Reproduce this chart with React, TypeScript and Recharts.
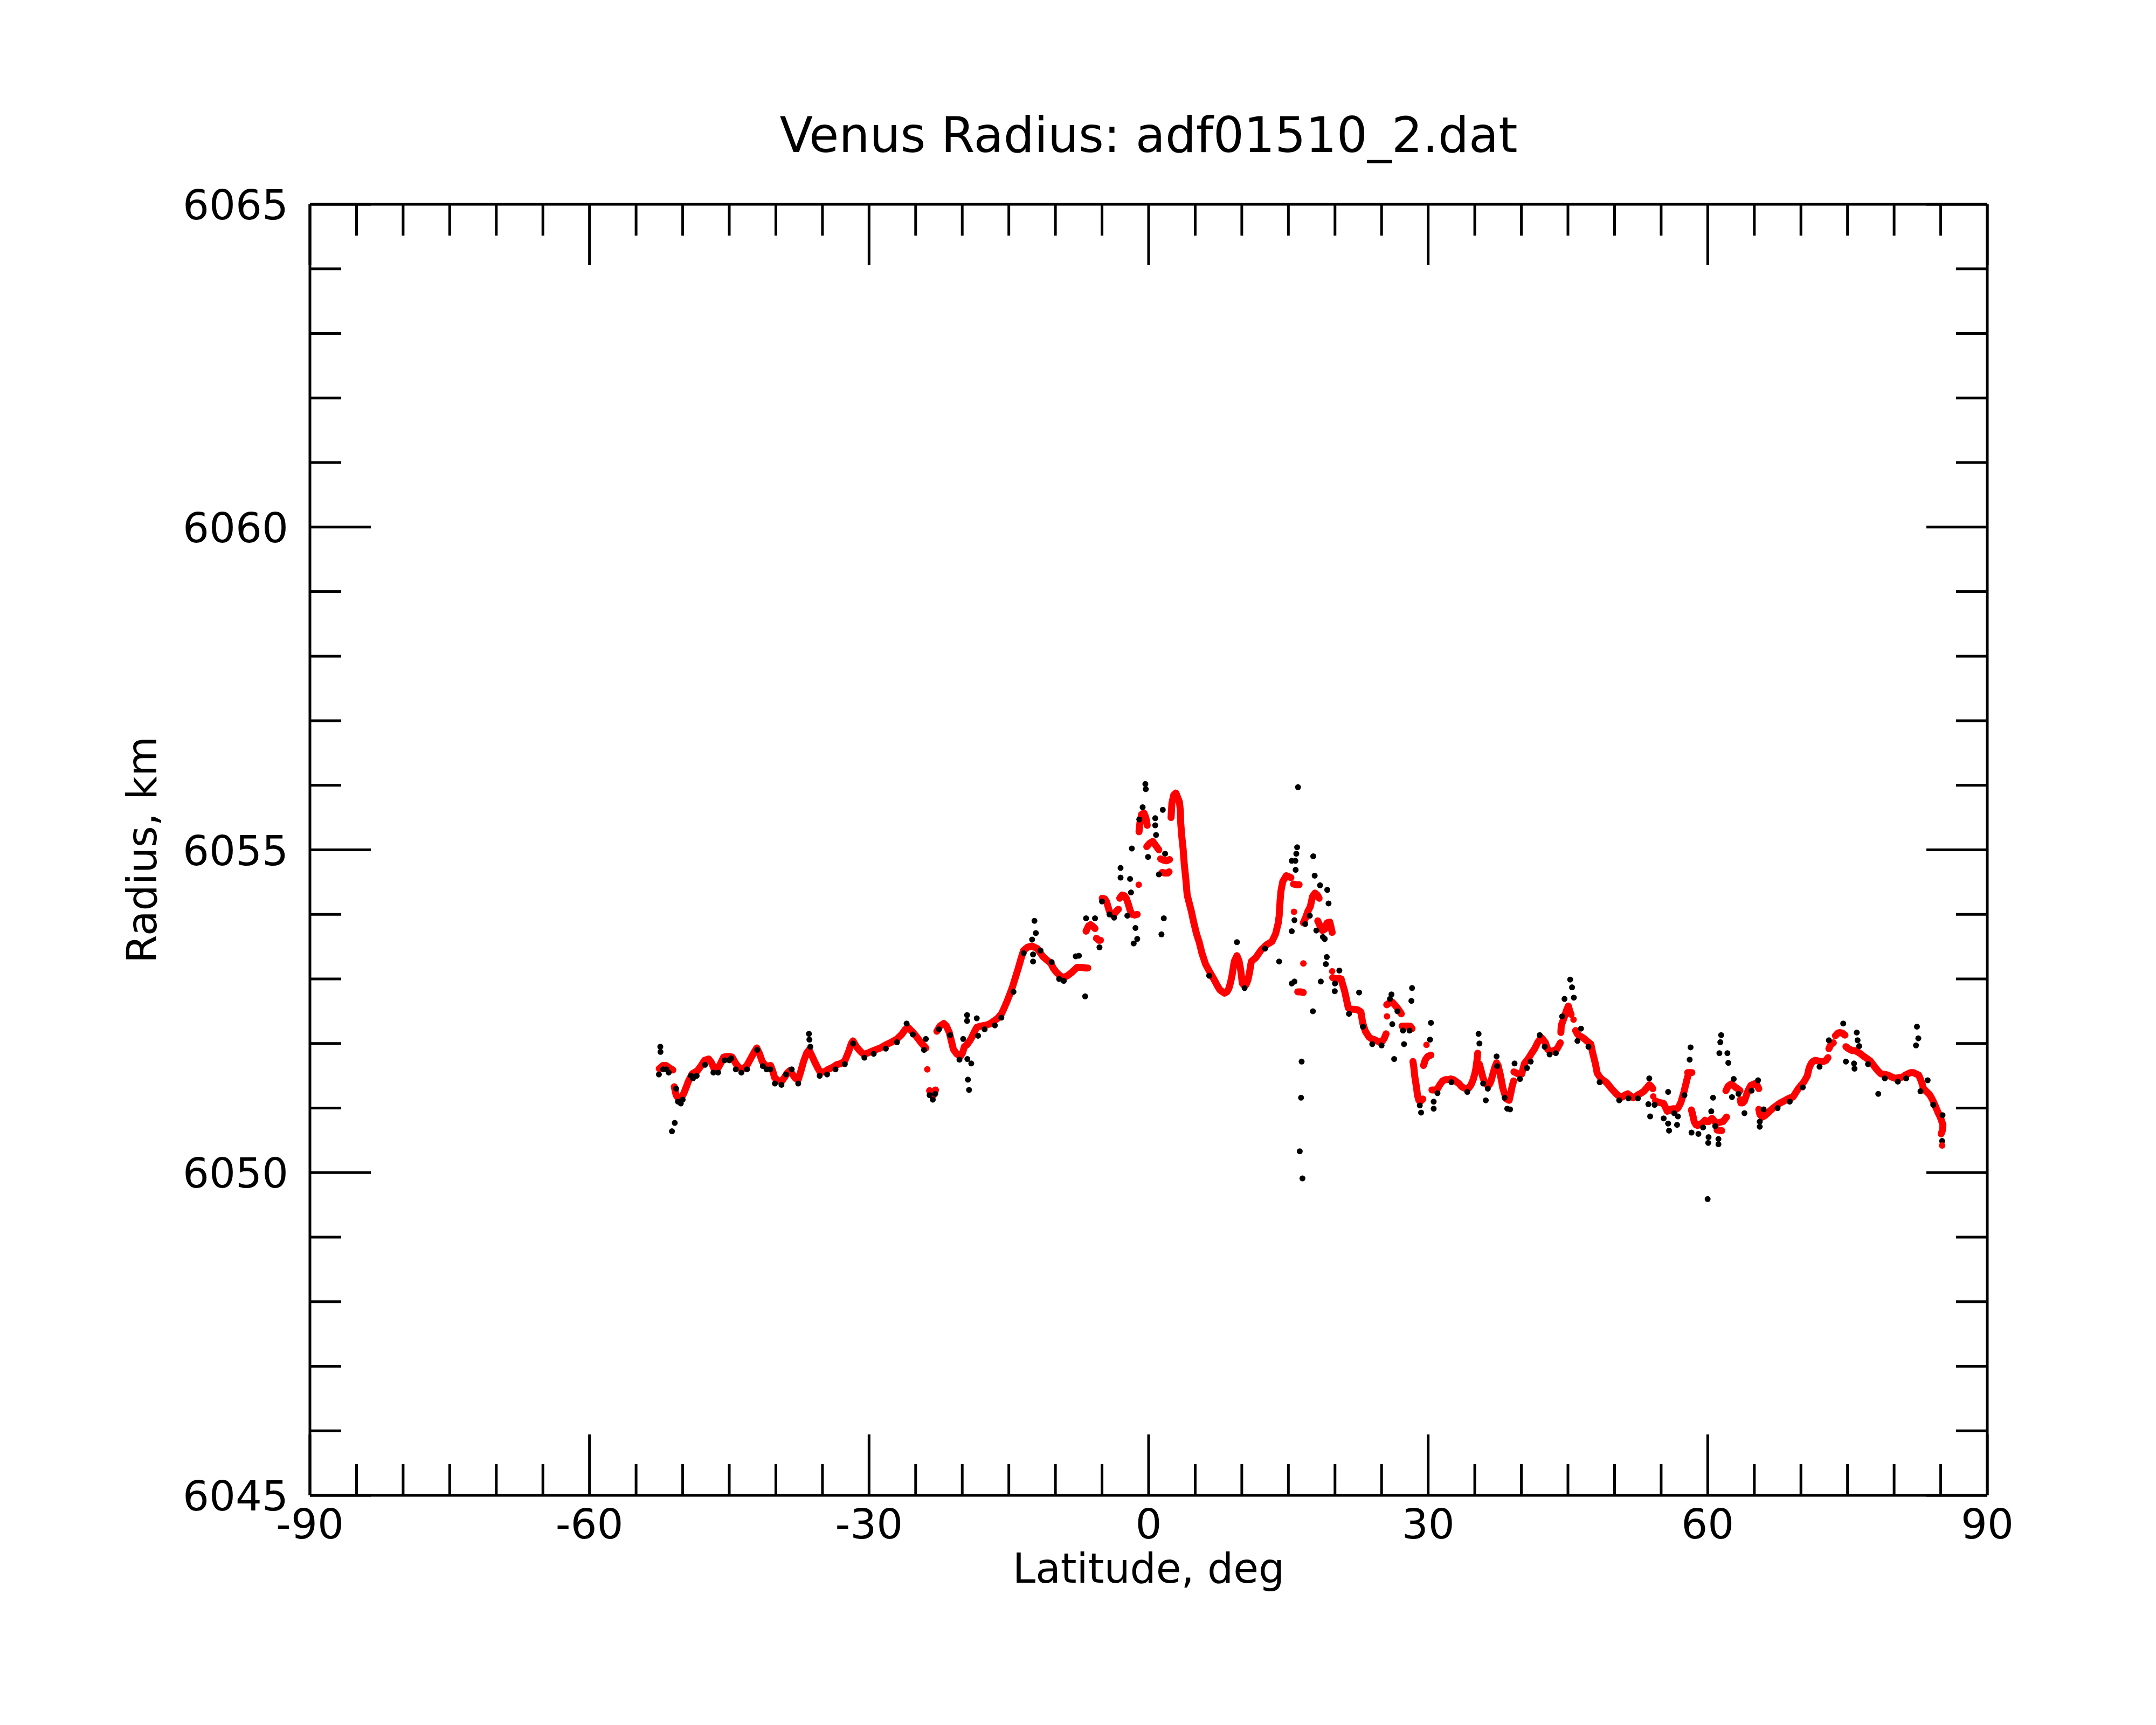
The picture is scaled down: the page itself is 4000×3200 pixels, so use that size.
import React from 'react';
import { ComposedChart, XAxis, YAxis, Line, Scatter } from 'recharts';

const FONT = '"DejaVu Sans", Verdana, sans-serif';

const titleText = 'Venus Radius: adf01510_2.dat';
const xLabelText = 'Latitude, deg';
const yLabelText = 'Radius, km';

const xTicks = [-90, -85, -80, -75, -70, -65, -60, -55, -50, -45, -40, -35, -30, -25, -20, -15, -10, -5, 0, 5, 10, 15, 20, 25, 30, 35, 40, 45, 50, 55, 60, 65, 70, 75, 80, 85, 90];
const xMajorTicks = [-90, -60, -30, 0, 30, 60, 90];
const yTicks = [6045, 6046, 6047, 6048, 6049, 6050, 6051, 6052, 6053, 6054, 6055, 6056, 6057, 6058, 6059, 6060, 6061, 6062, 6063, 6064, 6065];
const yMajorTicks = [6045, 6050, 6055, 6060, 6065];

// smoothed radius (red), continuous runs: [latitude, radius]
const redSeg01 = [[-52.52, 6051.61], [-52.1, 6051.66], [-51.79, 6051.66], [-51.4, 6051.62], [-51.05, 6051.59]];
const redSeg02 = [[-50.9, 6051.33], [-50.7, 6051.2], [-50.46, 6051.15], [-50.1, 6051.17], [-49.87, 6051.23], [-49.6, 6051.33], [-49.4, 6051.41], [-48.98, 6051.53], [-48.4, 6051.58], [-48.0, 6051.66], [-47.65, 6051.74], [-47.2, 6051.76], [-46.9, 6051.7], [-46.6, 6051.6], [-46.3, 6051.6], [-46.0, 6051.67], [-45.6, 6051.79], [-45.1, 6051.8], [-44.7, 6051.79], [-44.26, 6051.68], [-43.9, 6051.62], [-43.5, 6051.61], [-43.1, 6051.66], [-42.8, 6051.74], [-42.35, 6051.86], [-42.05, 6051.93], [-41.75, 6051.84], [-41.46, 6051.72], [-41.0, 6051.64], [-40.57, 6051.66], [-40.35, 6051.58], [-40.13, 6051.47], [-39.8, 6051.43], [-39.4, 6051.41], [-39.1, 6051.47], [-38.8, 6051.54], [-38.5, 6051.58], [-38.2, 6051.52], [-37.9, 6051.46], [-37.6, 6051.44], [-37.3, 6051.58], [-37.03, 6051.72], [-36.7, 6051.85], [-36.44, 6051.9], [-36.1, 6051.8], [-35.85, 6051.72], [-35.5, 6051.62], [-35.26, 6051.56], [-34.8, 6051.56], [-34.37, 6051.6], [-33.9, 6051.63], [-33.5, 6051.67], [-33.0, 6051.69], [-32.6, 6051.73], [-32.2, 6051.87], [-31.9, 6052.0], [-31.72, 6052.04], [-31.4, 6051.96], [-31.13, 6051.91], [-30.8, 6051.86], [-30.54, 6051.83], [-30.0, 6051.86], [-29.36, 6051.9], [-28.8, 6051.93], [-28.18, 6051.98], [-27.6, 6052.02], [-27.0, 6052.07], [-26.5, 6052.14], [-26.1, 6052.22], [-25.82, 6052.25], [-25.4, 6052.19], [-24.93, 6052.11], [-24.4, 6052.01], [-23.9, 6051.93]];
const redSeg03 = [[-23.5, 6051.27], [-23.3, 6051.2], [-23.16, 6051.19], [-23.0, 6051.22], [-22.87, 6051.28]];
const redSeg04 = [[-22.72, 6052.19], [-22.4, 6052.27], [-21.98, 6052.31], [-21.7, 6052.27], [-21.39, 6052.17], [-21.15, 6052.03], [-20.95, 6051.91], [-20.6, 6051.84], [-20.21, 6051.8], [-19.95, 6051.86], [-19.77, 6051.95], [-19.5, 6051.98], [-19.2, 6052.04], [-19.03, 6052.08], [-18.7, 6052.18], [-18.44, 6052.25], [-18.0, 6052.27], [-17.56, 6052.28], [-17.1, 6052.3], [-16.67, 6052.34], [-16.2, 6052.39], [-15.79, 6052.46], [-15.5, 6052.55], [-15.2, 6052.65], [-14.9, 6052.76], [-14.6, 6052.88], [-14.3, 6053.02], [-14.0, 6053.16], [-13.7, 6053.31], [-13.42, 6053.44], [-13.0, 6053.49], [-12.54, 6053.51], [-11.95, 6053.47], [-11.36, 6053.35], [-10.9, 6053.29], [-10.48, 6053.24], [-10.2, 6053.16], [-9.88, 6053.1], [-9.5, 6053.05], [-9.15, 6053.02], [-8.7, 6053.05], [-8.26, 6053.1], [-7.67, 6053.18], [-7.2, 6053.18], [-6.8, 6053.17], [-6.52, 6053.17]];
const redSeg05 = [[-6.71, 6053.74], [-6.45, 6053.82], [-6.23, 6053.84], [-5.95, 6053.81], [-5.75, 6053.78]];
const redSeg06 = [[-5.6, 6053.63], [-5.35, 6053.6], [-5.17, 6053.6]];
const redSeg07 = [[-4.98, 6054.25], [-4.7, 6054.24], [-4.5, 6054.19], [-4.21, 6054.05], [-3.95, 6054.0], [-3.72, 6054.0], [-3.45, 6054.05], [-3.24, 6054.08]];
const redSeg08 = [[-3.1, 6054.25], [-2.85, 6054.3], [-2.6, 6054.29], [-2.4, 6054.25], [-2.2, 6054.17], [-2.0, 6054.07], [-1.8, 6054.0], [-1.5, 6053.99], [-1.22, 6054.0]];
const redSeg09 = [[-1.03, 6055.28], [-0.93, 6055.42], [-0.75, 6055.55], [-0.5, 6055.57], [-0.3, 6055.5], [-0.15, 6055.38]];
const redSeg10 = [[-0.2, 6055.05], [0.1, 6055.1], [0.45, 6055.13], [0.8, 6055.06], [1.1, 6055.0]];
const redSeg11 = [[1.29, 6054.86], [1.6, 6054.84], [1.9, 6054.83], [2.25, 6054.85]];
const redSeg12 = [[1.45, 6054.65], [1.75, 6054.64], [2.06, 6054.64], [2.2, 6054.66]];
const redSeg13 = [[2.41, 6055.5], [2.5, 6055.72], [2.7, 6055.85], [2.93, 6055.88], [3.15, 6055.8], [3.31, 6055.74], [3.41, 6055.6], [3.45, 6055.41], [3.56, 6055.21], [3.7, 6055.02], [3.83, 6054.77], [3.99, 6054.55], [4.14, 6054.3], [4.37, 6054.17], [4.6, 6054.04], [4.85, 6053.87], [5.14, 6053.7], [5.43, 6053.57], [5.72, 6053.4], [6.11, 6053.23], [6.59, 6053.1], [7.07, 6052.98], [7.4, 6052.89], [7.65, 6052.83], [8.13, 6052.78], [8.4, 6052.8], [8.61, 6052.85], [8.8, 6052.95], [8.96, 6053.06], [9.19, 6053.27], [9.48, 6053.36], [9.7, 6053.28], [9.87, 6053.15], [10.06, 6052.93], [10.25, 6052.9], [10.45, 6052.91], [10.65, 6052.98], [10.83, 6053.1], [11.02, 6053.27], [11.5, 6053.33], [12.08, 6053.45], [12.66, 6053.53], [13.24, 6053.58], [13.63, 6053.7], [13.92, 6053.87], [14.01, 6053.98], [14.11, 6054.21], [14.2, 6054.36], [14.4, 6054.51], [14.78, 6054.6], [15.27, 6054.57]];
const redSeg14 = [[15.55, 6054.47], [15.85, 6054.46], [16.15, 6054.46]];
const redSeg15 = [[16.0, 6052.8], [16.3, 6052.8], [16.6, 6052.79]];
const redSeg16 = [[16.6, 6053.87], [16.85, 6053.95], [17.1, 6054.05], [17.35, 6054.12], [17.6, 6054.28], [17.85, 6054.33], [18.1, 6054.3], [18.3, 6054.25]];
const redSeg17 = [[18.15, 6053.9], [18.4, 6053.82], [18.65, 6053.75], [18.9, 6053.77], [19.15, 6053.87], [19.45, 6053.88], [19.7, 6053.72]];
const redSeg18 = [[19.75, 6053.02], [20.08, 6053.0], [20.4, 6053.01], [20.66, 6053.0], [20.85, 6052.9], [21.04, 6052.81], [21.25, 6052.67], [21.43, 6052.55], [21.75, 6052.53], [22.1, 6052.53], [22.45, 6052.52], [22.78, 6052.49], [22.97, 6052.32], [23.26, 6052.19], [23.65, 6052.1], [23.95, 6052.07], [24.23, 6052.06], [24.5, 6052.04], [24.8, 6052.02], [25.05, 6052.03], [25.29, 6052.08], [25.48, 6052.15]];
const redSeg19 = [[25.55, 6052.6], [25.85, 6052.63], [26.15, 6052.64], [26.4, 6052.6], [26.64, 6052.56], [26.9, 6052.51], [27.12, 6052.46]];
const redSeg20 = [[27.2, 6052.27], [27.6, 6052.27], [28.08, 6052.27], [28.27, 6052.23]];
const redSeg21 = [[28.37, 6051.72], [28.47, 6051.62], [28.56, 6051.49], [28.66, 6051.4], [28.76, 6051.31], [28.85, 6051.2], [29.0, 6051.12], [29.14, 6051.1], [29.3, 6051.12], [29.43, 6051.14]];
const redSeg22 = [[29.5, 6051.66], [29.7, 6051.75], [29.95, 6051.8], [30.3, 6051.82]];
const redSeg23 = [[30.4, 6051.28], [30.7, 6051.28], [30.97, 6051.29], [31.25, 6051.36], [31.55, 6051.42], [31.85, 6051.44], [32.13, 6051.44], [32.42, 6051.45], [32.71, 6051.44], [33.0, 6051.41], [33.29, 6051.38], [33.6, 6051.33], [33.86, 6051.31], [34.1, 6051.3], [34.35, 6051.31], [34.6, 6051.36], [34.83, 6051.44], [35.0, 6051.53], [35.12, 6051.61], [35.25, 6051.75], [35.31, 6051.85]];
const redSeg24 = [[35.5, 6051.68], [35.7, 6051.57], [35.9, 6051.46], [36.08, 6051.4], [36.3, 6051.36], [36.56, 6051.36], [36.75, 6051.42], [36.95, 6051.53], [37.15, 6051.63], [37.34, 6051.7], [37.5, 6051.66], [37.72, 6051.53], [37.9, 6051.4], [38.01, 6051.31], [38.2, 6051.22], [38.4, 6051.14], [38.69, 6051.12], [38.88, 6051.24], [39.0, 6051.33], [39.17, 6051.42]];
const redSeg25 = [[39.2, 6051.56], [39.65, 6051.53], [40.04, 6051.53], [40.33, 6051.69], [40.81, 6051.78], [41.1, 6051.85], [41.39, 6051.91], [41.77, 6052.02], [42.16, 6052.09], [42.55, 6052.02], [42.83, 6051.91], [43.1, 6051.88], [43.32, 6051.88], [43.8, 6051.91], [44.18, 6052.01]];
const redSeg26 = [[44.24, 6052.17], [44.28, 6052.28], [44.57, 6052.39], [44.86, 6052.52], [45.05, 6052.58], [45.2, 6052.5], [45.34, 6052.45]];
const redSeg27 = [[45.82, 6052.2], [46.0, 6052.15], [46.21, 6052.12], [46.5, 6052.1], [46.79, 6052.07], [47.1, 6052.03], [47.46, 6051.99], [47.66, 6051.85], [47.8, 6051.77], [47.94, 6051.69], [48.14, 6051.54], [48.52, 6051.46], [48.8, 6051.43], [49.1, 6051.4], [49.4, 6051.35], [49.68, 6051.3], [50.0, 6051.25], [50.26, 6051.21], [50.55, 6051.18], [50.84, 6051.17], [51.1, 6051.2], [51.41, 6051.22], [51.7, 6051.19], [51.99, 6051.16], [52.3, 6051.18], [52.57, 6051.21], [52.85, 6051.23], [53.15, 6051.26], [53.45, 6051.31], [53.73, 6051.36], [53.9, 6051.34], [54.11, 6051.3]];
const redSeg28 = [[54.4, 6051.11], [54.69, 6051.09], [55.0, 6051.08], [55.27, 6051.07], [55.5, 6051.0], [55.66, 6050.95], [55.85, 6050.96], [56.04, 6050.98], [56.3, 6050.99], [56.62, 6050.98], [56.8, 6051.0], [57.0, 6051.05], [57.15, 6051.1], [57.29, 6051.17], [57.45, 6051.25], [57.58, 6051.33], [57.7, 6051.4], [57.78, 6051.45], [57.88, 6051.5]];
const redSeg29 = [[57.85, 6051.55], [58.3, 6051.55]];
const redSeg30 = [[58.25, 6050.97], [58.35, 6050.92], [58.55, 6050.79], [58.75, 6050.74], [58.93, 6050.73], [59.1, 6050.74], [59.32, 6050.76], [59.5, 6050.78], [59.7, 6050.81], [59.9, 6050.79], [60.09, 6050.79], [60.3, 6050.82], [60.47, 6050.84], [60.7, 6050.8], [60.9, 6050.77], [61.1, 6050.77], [61.3, 6050.78], [61.63, 6050.79], [61.8, 6050.82], [62.02, 6050.86]];
const redSeg31 = [[61.0, 6050.66], [61.5, 6050.65]];
const redSeg32 = [[61.95, 6051.27], [62.2, 6051.34], [62.5, 6051.37], [62.75, 6051.35], [62.98, 6051.32], [63.2, 6051.3], [63.46, 6051.27]];
const redSeg33 = [[63.5, 6051.13], [63.56, 6051.08], [63.75, 6051.08], [63.94, 6051.11], [64.15, 6051.2], [64.33, 6051.27], [64.62, 6051.35], [65.1, 6051.38], [65.3, 6051.35], [65.48, 6051.3]];
const redSeg34 = [[65.48, 6050.98], [65.6, 6050.9], [65.87, 6050.86], [66.1, 6050.88], [66.44, 6050.92], [66.7, 6050.96], [67.02, 6051.0], [67.4, 6051.04], [67.79, 6051.08], [68.2, 6051.11], [68.57, 6051.14], [68.9, 6051.16], [69.14, 6051.17], [69.45, 6051.24], [69.72, 6051.3], [70.0, 6051.35], [70.3, 6051.4], [70.5, 6051.45], [70.69, 6051.5], [70.88, 6051.62], [71.1, 6051.69], [71.27, 6051.72], [71.55, 6051.74], [71.84, 6051.73], [72.1, 6051.72], [72.42, 6051.72], [72.7, 6051.74], [72.9, 6051.78]];
const redSeg35 = [[73.0, 6051.92], [73.2, 6051.98], [73.48, 6052.01]];
const redSeg36 = [[73.7, 6052.12], [73.95, 6052.16], [74.16, 6052.17], [74.45, 6052.16], [74.73, 6052.13]];
const redSeg37 = [[74.83, 6051.95], [75.1, 6051.92], [75.51, 6051.89], [75.8, 6051.89], [76.08, 6051.87], [76.4, 6051.84], [76.66, 6051.81], [77.05, 6051.77], [77.43, 6051.73], [77.7, 6051.68], [78.01, 6051.62], [78.3, 6051.57], [78.59, 6051.53], [79.0, 6051.52], [79.36, 6051.51], [79.75, 6051.48], [80.13, 6051.46], [80.5, 6051.47], [80.9, 6051.48], [81.2, 6051.51], [81.48, 6051.53], [81.8, 6051.55], [82.06, 6051.55], [82.35, 6051.53], [82.64, 6051.51], [82.85, 6051.44], [83.02, 6051.37], [83.15, 6051.3]];
const redSeg38 = [[83.25, 6051.29], [83.5, 6051.25], [83.8, 6051.21], [84.0, 6051.16], [84.18, 6051.11], [84.4, 6051.04], [84.57, 6050.98], [84.75, 6050.92], [84.95, 6050.86], [85.1, 6050.8], [85.24, 6050.74], [85.2, 6050.66], [85.05, 6050.6]];

// isolated smoothed points (red)
const redIsolated = [[-23.75, 6051.6], [-1.06, 6054.46], [15.6, 6054.04], [16.61, 6053.24], [19.7, 6053.12], [25.58, 6052.42], [29.82, 6051.98], [45.6, 6052.37], [54.15, 6051.18], [85.15, 6050.42]];

// raw radius samples (black)
const blackPoints = [
  [-52.55, 6051.52], [-52.4, 6051.95], [-52.38, 6051.87], [-52.1, 6051.6], [-51.75, 6051.6], [-51.5, 6051.55], [-51.15, 6050.64], [-50.85, 6050.77], [-50.7, 6051.3], [-50.5, 6051.1], [-50.2, 6051.07], [-50.0, 6051.13],
  [-49.1, 6051.5], [-48.9, 6051.46], [-48.5, 6051.5], [-47.6, 6051.67], [-46.7, 6051.55], [-46.2, 6051.55], [-45.5, 6051.74], [-45.0, 6051.74], [-44.8, 6051.77], [-44.3, 6051.6], [-43.7, 6051.55], [-43.1, 6051.6], [-42.0, 6051.9], [-41.4, 6051.65], [-41.0, 6051.6], [-40.6, 6051.6],
  [-40.1, 6051.38], [-39.4, 6051.36], [-38.9, 6051.52], [-38.3, 6051.6], [-37.6, 6051.38], [-36.45, 6052.15], [-36.4, 6052.06], [-36.3, 6051.95], [-35.3, 6051.5], [-34.5, 6051.52], [-33.6, 6051.6], [-32.6, 6051.68], [-31.7, 6052.0], [-30.5, 6051.78], [-29.5, 6051.84], [-28.2, 6051.92], [-27.0, 6052.02], [-25.97, 6052.31], [-25.3, 6052.14], [-24.1, 6051.9], [-23.9, 6052.07],
  [-23.5, 6051.2], [-23.16, 6051.13], [-22.9, 6051.22], [-22.5, 6052.22], [-21.3, 6052.13], [-20.3, 6051.75], [-19.9, 6052.07], [-19.48, 6052.44], [-19.48, 6052.35], [-19.45, 6051.76], [-19.03, 6051.69], [-19.39, 6051.44], [-19.27, 6051.28], [-18.44, 6052.39], [-18.3, 6052.12], [-17.6, 6052.22], [-16.5, 6052.28], [-15.8, 6052.4], [-14.5, 6052.8],
  [-13.4, 6053.4], [-12.25, 6053.9], [-12.1, 6053.71], [-12.5, 6053.61], [-12.4, 6053.27], [-12.4, 6053.38], [-11.6, 6053.44], [-10.4, 6053.26], [-9.6, 6053.0], [-9.1, 6052.97], [-7.82, 6053.35], [-7.48, 6053.36], [-6.81, 6052.73], [-6.71, 6053.94], [-5.75, 6053.94], [-5.27, 6053.49], [-5.0, 6054.2], [-4.2, 6054.0], [-3.7, 6053.95],
  [-3.01, 6054.72], [-3.01, 6054.57], [-1.99, 6054.55], [-1.89, 6054.34], [-1.8, 6055.02], [-2.28, 6053.98], [-1.41, 6053.79], [-1.6, 6053.55], [-1.22, 6053.62], [-0.35, 6056.02], [-0.3, 6055.94], [-0.64, 6055.66], [-1.0, 6055.47], [0.71, 6055.49], [0.71, 6055.38], [0.8, 6055.23], [1.52, 6055.62], [1.77, 6054.94], [-0.06, 6054.89], [1.1, 6054.62], [1.63, 6053.94], [1.38, 6053.69],
  [6.5, 6053.05], [9.48, 6053.57], [10.3, 6052.86], [12.5, 6053.47], [14.01, 6053.27], [15.36, 6054.83], [15.36, 6053.74], [15.36, 6052.93],
  [16.03, 6055.97], [15.94, 6055.04], [15.85, 6054.94], [15.75, 6054.83], [15.78, 6054.69], [15.65, 6053.91], [15.65, 6052.96], [16.42, 6051.72], [16.36, 6051.16], [16.22, 6050.33], [16.51, 6049.91],
  [17.67, 6054.9], [17.82, 6054.6], [18.4, 6054.45], [19.17, 6054.38], [19.31, 6054.17], [17.63, 6052.5], [18.48, 6052.96], [19.12, 6053.34], [19.02, 6053.23], [18.9, 6053.62], [20.47, 6053.13], [19.98, 6052.81], [22.59, 6052.79], [26.06, 6052.76], [28.27, 6052.86], [28.2, 6052.66], [26.35, 6051.76], [27.41, 6051.99], [26.15, 6052.3],
  [30.3, 6052.32], [30.2, 6052.06], [30.59, 6050.99], [30.59, 6051.1], [29.24, 6050.93], [35.41, 6052.15], [35.5, 6052.0], [36.18, 6051.12], [37.34, 6051.8], [38.49, 6050.99],
  [16.8, 6053.85], [17.3, 6053.98], [18.0, 6053.75], [18.7, 6053.65], [20.0, 6052.93], [21.5, 6052.46], [23.0, 6052.26], [24.0, 6051.99], [25.0, 6051.97], [25.9, 6052.69], [26.7, 6052.5], [27.3, 6052.2], [28.0, 6052.2], [29.1, 6051.04], [31.0, 6051.23], [32.5, 6051.4], [34.2, 6051.25], [35.9, 6051.38], [36.4, 6051.3], [37.4, 6051.65], [38.2, 6051.16],
  [45.24, 6052.99], [45.44, 6052.87], [44.63, 6052.69], [45.63, 6052.71], [44.38, 6052.42], [46.4, 6052.23], [46.02, 6052.04], [41.97, 6052.13], [43.03, 6051.83], [43.7, 6051.85], [39.27, 6051.69], [39.85, 6051.45], [38.79, 6050.98], [40.6, 6051.62],
  [53.73, 6051.46], [53.63, 6051.06], [53.82, 6050.87], [55.75, 6051.25], [55.75, 6050.76], [55.85, 6050.65], [56.71, 6050.74], [56.8, 6050.87], [55.27, 6050.84], [58.16, 6051.94], [58.06, 6051.75], [58.26, 6050.62], [60.57, 6051.16], [60.38, 6050.95], [60.09, 6050.55], [60.05, 6050.46], [61.15, 6050.52], [61.15, 6050.44], [59.99, 6049.59],
  [61.44, 6052.13], [61.35, 6052.02], [61.25, 6051.85], [62.11, 6051.85], [62.21, 6051.7], [62.79, 6051.45], [62.6, 6051.17], [63.94, 6050.92], [59.0, 6050.6],
  [41.0, 6051.72], [42.5, 6051.95], [47.2, 6051.95], [48.4, 6051.4], [50.5, 6051.12], [51.5, 6051.15], [52.5, 6051.15], [54.3, 6051.05], [56.4, 6050.92], [57.5, 6051.2], [59.5, 6050.7], [60.8, 6050.72], [63.3, 6051.22],
  [74.54, 6052.31], [73.0, 6052.05], [75.99, 6052.17], [76.08, 6052.05], [76.25, 6051.96], [74.83, 6051.72], [75.7, 6051.69], [75.75, 6051.61], [78.3, 6051.22], [82.45, 6052.26], [82.6, 6052.08], [82.35, 6051.97], [83.6, 6051.43], [82.83, 6051.26],
  [65.58, 6050.79], [65.58, 6050.71], [66.0, 6050.98], [85.2, 6050.89], [85.15, 6050.49], [64.71, 6051.27], [65.4, 6051.43],
  [67.5, 6051.0], [68.8, 6051.1], [70.2, 6051.32], [72.0, 6051.64], [77.2, 6051.68], [79.0, 6051.46], [80.4, 6051.41], [81.3, 6051.46], [84.2, 6051.05],
];

const redSegments = [redSeg01, redSeg02, redSeg03, redSeg04, redSeg05, redSeg06, redSeg07, redSeg08, redSeg09, redSeg10, redSeg11, redSeg12, redSeg13, redSeg14, redSeg15, redSeg16, redSeg17, redSeg18, redSeg19, redSeg20, redSeg21, redSeg22, redSeg23, redSeg24, redSeg25, redSeg26, redSeg27, redSeg28, redSeg29, redSeg30, redSeg31, redSeg32, redSeg33, redSeg34, redSeg35, redSeg36, redSeg37, redSeg38];

const toPts = (arr: number[][]) => arr.map(([lat, r]) => ({ lat, r }));

const STROKE = 5;
const MAJOR_LEN = 113;
const MINOR_LEN = 58;
const TICK_FONT = 77;
const LABEL_FONT = 76;
const TITLE_FONT = 90;

function BottomTick(p: any) {
  const { x, y, payload } = p;
  const v = payload.value;
  const major = xMajorTicks.includes(v);
  return (
    <g>
      <line x1={x} x2={x} y1={y} y2={y - (major ? MAJOR_LEN : MINOR_LEN)} stroke="#000" strokeWidth={STROKE} />
      {major ? (
        <text x={x} y={y + 80} textAnchor="middle" fontSize={TICK_FONT} fontFamily={FONT} fill="#000">{v}</text>
      ) : null}
    </g>
  );
}

function TopTick(p: any) {
  const { x, y, payload } = p;
  const major = xMajorTicks.includes(payload.value);
  return <line x1={x} x2={x} y1={y} y2={y + (major ? MAJOR_LEN : MINOR_LEN)} stroke="#000" strokeWidth={STROKE} />;
}

function LeftTick(p: any) {
  const { x, y, payload } = p;
  const v = payload.value;
  const major = yMajorTicks.includes(v);
  return (
    <g>
      <line x1={x} x2={x + (major ? MAJOR_LEN : MINOR_LEN)} y1={y} y2={y} stroke="#000" strokeWidth={STROKE} />
      {major ? (
        <text x={x - 40} y={y + 28} textAnchor="end" fontSize={TICK_FONT} fontFamily={FONT} fill="#000">{v}</text>
      ) : null}
    </g>
  );
}

function RightTick(p: any) {
  const { x, y, payload } = p;
  const major = yMajorTicks.includes(payload.value);
  return <line x1={x} x2={x - (major ? MAJOR_LEN : MINOR_LEN)} y1={y} y2={y} stroke="#000" strokeWidth={STROKE} />;
}

const blackDot = (p: any) => <circle cx={p.cx} cy={p.cy} r={5.5} fill="#000" />;
const redDot = (p: any) => <circle cx={p.cx} cy={p.cy} r={6} fill="#ff0000" />;

export default function App() {
  const frame = { stroke: '#000', strokeWidth: STROKE };
  return (
    <div style={{ position: 'absolute', left: 0, top: 0, width: 4000, height: 3200, background: '#fff' }}>
      <ComposedChart width={4000} height={3200} margin={{ top: 369, right: 303, bottom: 416, left: 565 }}>
        <XAxis
          xAxisId="b"
          dataKey="lat"
          type="number"
          domain={[-90, 90]}
          allowDataOverflow
          ticks={xTicks}
          interval={0}
          tickSize={0}
          tickMargin={0}
          tickLine={false}
          axisLine={frame}
          height={10}
          tick={(p: any) => <BottomTick {...p} />}
          label={{
            content: (lp: any) => {
              const vb = lp.viewBox;
              return (
                <text x={vb.x + vb.width / 2} y={vb.y + 162} textAnchor="middle" fontSize={LABEL_FONT} fontFamily={FONT} fill="#000">{xLabelText}</text>
              );
            },
          }}
        />
        <XAxis
          xAxisId="t"
          orientation="top"
          dataKey="lat"
          type="number"
          domain={[-90, 90]}
          allowDataOverflow
          ticks={xTicks}
          interval={0}
          tickSize={0}
          tickMargin={0}
          tickLine={false}
          axisLine={frame}
          height={10}
          tick={(p: any) => <TopTick {...p} />}
          label={{
            content: (lp: any) => {
              const vb = lp.viewBox;
              return (
                <text x={vb.x + vb.width / 2} y={vb.y + vb.height - 97} textAnchor="middle" fontSize={TITLE_FONT} fontFamily={FONT} fill="#000">{titleText}</text>
              );
            },
          }}
        />
        <YAxis
          yAxisId="l"
          dataKey="r"
          type="number"
          domain={[6045, 6065]}
          allowDataOverflow
          ticks={yTicks}
          interval={0}
          tickSize={0}
          tickMargin={0}
          tickLine={false}
          axisLine={frame}
          width={10}
          tick={(p: any) => <LeftTick {...p} />}
          label={{
            content: (lp: any) => {
              const vb = lp.viewBox;
              const cx = vb.x + vb.width - 285;
              const cy = vb.y + vb.height / 2;
              return (
                <text x={cx} y={cy} transform={`rotate(-90, ${cx}, ${cy})`} textAnchor="middle" fontSize={LABEL_FONT} fontFamily={FONT} fill="#000">{yLabelText}</text>
              );
            },
          }}
        />
        <YAxis
          yAxisId="r"
          orientation="right"
          dataKey="r"
          type="number"
          domain={[6045, 6065]}
          allowDataOverflow
          ticks={yTicks}
          interval={0}
          tickSize={0}
          tickMargin={0}
          tickLine={false}
          axisLine={frame}
          width={10}
          tick={(p: any) => <RightTick {...p} />}
        />
        <Scatter
          xAxisId="b"
          yAxisId="l"
          data={toPts(blackPoints)}
          dataKey="r"
          shape={blackDot}
          isAnimationActive={false}
        />
        {redSegments.map((seg, i) => (
          <Line
            key={`seg${i}`}
            xAxisId="b"
            yAxisId="l"
            data={toPts(seg)}
            dataKey="r"
            type="linear"
            stroke="#ff0000"
            strokeWidth={13}
            strokeLinecap="round"
            strokeLinejoin="round"
            dot={false}
            activeDot={false}
            isAnimationActive={false}
          />
        ))}
        <Scatter
          xAxisId="b"
          yAxisId="l"
          data={toPts(redIsolated)}
          dataKey="r"
          shape={redDot}
          isAnimationActive={false}
        />
        <Scatter xAxisId="t" yAxisId="r" data={[]} dataKey="r" isAnimationActive={false} />
      </ComposedChart>
    </div>
  );
}
